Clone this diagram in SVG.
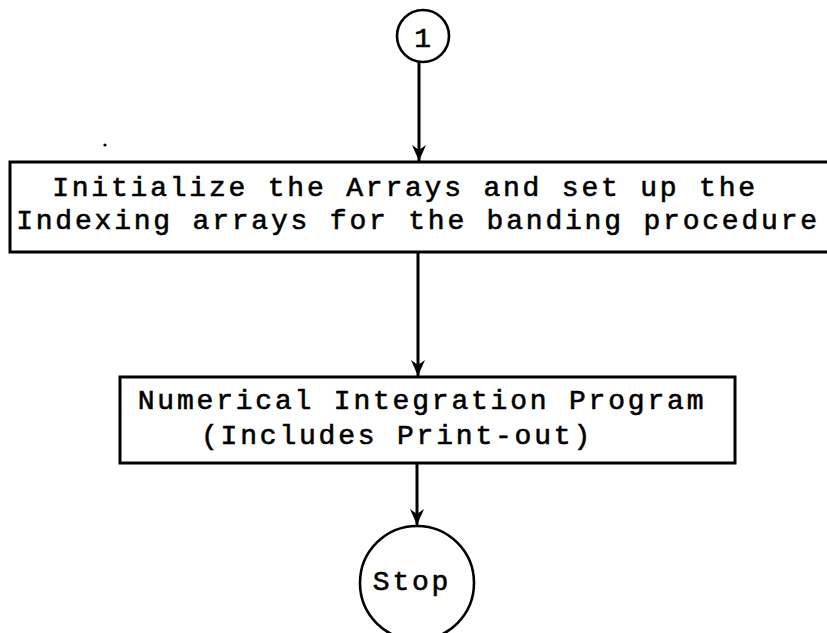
<svg xmlns="http://www.w3.org/2000/svg" width="827" height="633" viewBox="0 0 827 633">
<style>
  .box { fill: #fff; stroke: #000; stroke-width: 3; }
  .circ { fill: #fff; stroke: #000; stroke-width: 2.6; }
  .t { font-family: "Liberation Mono", "Courier New", monospace; font-size: 28px; fill: #000; stroke: #000; stroke-width: 0.6px; letter-spacing: 2.8px; }
  .edge { stroke: #000; stroke-width: 3; fill: none; }
</style>
<defs>
  <marker id="arr" markerUnits="userSpaceOnUse" markerWidth="18" markerHeight="20" refX="16" refY="8" orient="auto" viewBox="0 0 18 16">
    <path d="M0,1 L16,8 L0,15 L5,8 Z" fill="#000"/>
  </marker>
</defs>
<rect width="827" height="633" fill="#fff"/>
<g id="connectors">
  <line class="edge" x1="419" y1="62" x2="419" y2="161" marker-end="url(#arr)"/>
  <line class="edge" x1="418" y1="252" x2="418" y2="376" marker-end="url(#arr)"/>
  <line class="edge" x1="417" y1="463" x2="417" y2="525" marker-end="url(#arr)"/>
</g>
<g id="start">
  <circle class="circ" cx="423" cy="36" r="26"/>
  <text class="t" x="424" y="47" text-anchor="middle">1</text>
</g>
<g id="init">
  <rect class="box" x="10" y="162" width="830" height="90"/>
  <text class="t" x="405" y="196" text-anchor="middle">Initialize the Arrays and set up the</text>
  <text class="t" x="418" y="229" text-anchor="middle">Indexing arrays for the banding procedure</text>
</g>
<g id="integrate">
  <rect class="box" x="120" y="377" width="615" height="86"/>
  <text class="t" x="422" y="409" text-anchor="middle">Numerical Integration Program</text>
  <text class="t" x="397" y="444" text-anchor="middle">(Includes Print-out)</text>
</g>
<g id="stop">
  <circle class="circ" cx="417" cy="583" r="57"/>
  <text class="t" x="412" y="590" text-anchor="middle">Stop</text>
</g>
<circle cx="105" cy="145" r="1.6" fill="#000"/>
</svg>
